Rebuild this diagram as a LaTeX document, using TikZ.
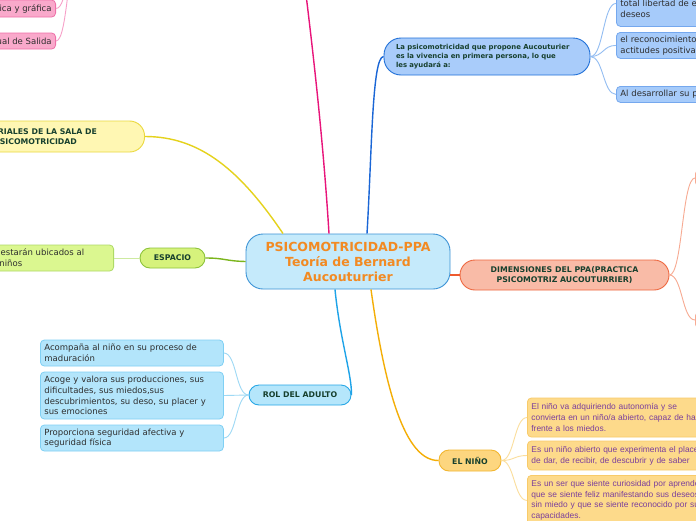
\documentclass[tikz,border=0pt]{standalone}
\usepackage{fontspec}
\setmainfont{DejaVu Sans}
\newfontfamily\arialf{Liberation Sans}
\usetikzlibrary{calc}
\definecolor{cfill}{HTML}{C5EAFB}
\definecolor{cdraw}{HTML}{3C93D6}
\definecolor{ctext}{HTML}{F28A22}
\definecolor{ttext}{HTML}{17402E}
\definecolor{kidtext}{HTML}{2E2E2E}
\definecolor{bfill}{HTML}{A9CCFA}
\definecolor{bdraw}{HTML}{2070D8}
\definecolor{bcfill}{HTML}{A6CBFA}
\definecolor{bcdraw}{HTML}{75A8EE}
\definecolor{blink}{HTML}{1A66D6}
\definecolor{bclink}{HTML}{93BDF2}
\definecolor{plink}{HTML}{E8147A}
\definecolor{pfill}{HTML}{F9A9CB}
\definecolor{pdraw}{HTML}{EE70A8}
\definecolor{pclink}{HTML}{F7A0C8}
\definecolor{yfill}{HTML}{FFF7B3}
\definecolor{ydraw}{HTML}{EBD93F}
\definecolor{ylink}{HTML}{E5D21C}
\definecolor{gfill}{HTML}{D6F27C}
\definecolor{gdraw}{HTML}{8DC33A}
\definecolor{glink}{HTML}{7BB51C}
\definecolor{gcfill}{HTML}{DBF790}
\definecolor{gcdraw}{HTML}{AEDA66}
\definecolor{gclink}{HTML}{CDEAA0}
\definecolor{rfill}{HTML}{B5E6FB}
\definecolor{rdraw}{HTML}{27A7E6}
\definecolor{rlink}{HTML}{1EA3E8}
\definecolor{rcfill}{HTML}{B3E5FB}
\definecolor{rcdraw}{HTML}{80D0F4}
\definecolor{rclink}{HTML}{9ED9F5}
\definecolor{dfill}{HTML}{F9BBA7}
\definecolor{ddraw}{HTML}{EE6840}
\definecolor{dlink}{HTML}{EE5A2E}
\definecolor{dclink}{HTML}{F7AA92}
\definecolor{nfill}{HTML}{FDD67F}
\definecolor{ndraw}{HTML}{F2B630}
\definecolor{nlink}{HTML}{F4AE06}
\definecolor{ncfill}{HTML}{FDDA8B}
\definecolor{ncdraw}{HTML}{F8CB6A}
\definecolor{nclink}{HTML}{FBDE9C}
\definecolor{nctext}{HTML}{7A3E9C}
\tikzset{
  topic/.style={draw, line width=0.9pt, inner sep=0pt, align=center, text=ttext,
    font=\bfseries\fontsize{7.8}{10}\selectfont},
  kid/.style={draw, line width=0.8pt, rounded corners=4pt, inner xsep=4pt, inner ysep=0pt,
    align=left, text=kidtext, font=\fontsize{8.5}{10.7}\selectfont},
  mainlink/.style={line width=1.4pt},
  kidlink/.style={line width=0.9pt}
}
\begin{document}
\begin{tikzpicture}[x=1pt,y=-1pt]
\useasboundingbox (0,0) rectangle (696,520);
\clip (0,0) rectangle (696,520);
\fill[white] (0,0) rectangle (696,520);

% central
\node[topic, fill=cfill, draw=cdraw, rounded corners=17pt, minimum width=204pt, minimum height=55pt,
  text=ctext, font=\bfseries\fontsize{12.5}{15}\selectfont] (central) at (348,261.5)
  {PSICOMOTRICIDAD-PPA\\Teoría de Bernard\\Aucouturrier};

% top blue
\node[topic, fill=bfill, draw=bdraw, rounded corners=17pt, minimum width=206pt, minimum height=37pt,
  text width=182pt, align=left, font=\bfseries\fontsize{6.9}{9}\selectfont] (vivencia) at (487,56.5)
  {La psicomotricidad que propone Aucouturier\\es la vivencia en primera persona, lo que\\les ayudará a:};
\node[kid, fill=bcfill, draw=bcdraw, anchor=north west, text width=180pt, minimum height=46pt] (b1) at (616,-20)
  {Conocer sus límites en la\\total libertad de expresar sus\\deseos};
\node[kid, fill=bcfill, draw=bcdraw, anchor=north west, text width=180pt, minimum height=26pt] (b2) at (616,32)
  {el reconocimiento de sus\\actitudes positivas};
\node[kid, fill=bcfill, draw=bcdraw, anchor=north west, text width=180pt, minimum height=16pt] (b3) at (616,86)
  {Al desarrollar su personalidad};

% pink (parent off canvas)
\node[topic, fill=pfill, draw=pdraw, rounded corners=12pt, minimum width=220pt, minimum height=28pt] (expres) at (190,-50) {};
\node[kid, fill=pfill, draw=pdraw, anchor=east, minimum height=17pt] (p1) at (56,8.5)
  {Expresión plástica y gráfica};
\node[kid, fill=pfill, draw=pdraw, anchor=east, minimum height=16pt] (p2) at (56,41)
  {Ritual de Salida};

% materiales
\node[topic, fill=yfill, draw=ydraw, rounded corners=15pt, minimum width=218pt, minimum height=31pt,
  anchor=east] (mat) at (145,136.5) {MATERIALES DE LA SALA DE\\PSICOMOTRICIDAD};

% espacio
\node[topic, fill=gfill, draw=gdraw, rounded corners=10pt, minimum width=65pt, minimum height=20pt] (esp) at (172.5,258) {ESPACIO};
\node[kid, fill=gcfill, draw=gcdraw, anchor=east, text width=174pt, minimum height=26pt] (e1) at (114,258)
  {Los materiales estarán ubicados al\\alcance de los niños};

% rol del adulto
\node[topic, fill=rfill, draw=rdraw, rounded corners=10pt, minimum width=102pt, minimum height=20pt] (rol) at (300,395) {ROL DEL ADULTO};
\node[kid, fill=rcfill, draw=rcdraw, anchor=west, text width=175pt, minimum height=26pt] (r1) at (40,353)
  {Acompaña al niño en su proceso de\\maduración};
\node[kid, fill=rcfill, draw=rcdraw, anchor=west, text width=175pt, minimum height=47pt] (r2) at (40,395.5)
  {Acoge y valora sus producciones, sus\\dificultades, sus miedos,sus\\descubrimientos, su deso, su placer y\\sus emociones};
\node[kid, fill=rcfill, draw=rcdraw, anchor=west, text width=175pt, minimum height=26pt] (r3) at (40,438)
  {Proporciona seguridad afectiva y\\seguridad física};

% dimensiones
\node[topic, fill=dfill, draw=ddraw, rounded corners=15pt, minimum width=209pt, minimum height=30pt] (dim) at (564.5,275)
  {DIMENSIONES DEL PPA(PRACTICA\\PSICOMOTRIZ AUCOUTURRIER)};
\node[kid, fill=dfill, draw=dclink, anchor=west, text width=150pt, minimum height=16pt] (d1) at (695,178) {};
\node[kid, fill=dfill, draw=dclink, anchor=west, text width=150pt, minimum height=16pt] (d2) at (695,320) {};

% el nino
\node[topic, fill=nfill, draw=ndraw, rounded corners=10pt, minimum width=62pt, minimum height=21pt] (nino) at (470,460.5) {EL NIÑO};
\node[kid, fill=ncfill, draw=ncdraw, anchor=west, text=nctext, text width=200pt, minimum height=39pt,
  font=\arialf\fontsize{8.4}{10.8}\selectfont] (n1) at (527,417.5)
  {El niño va adquiriendo autonomía y se\\convierta en un niño/a abierto, capaz de hacer\\frente a los miedos.};
\node[kid, fill=ncfill, draw=ncdraw, anchor=west, text=nctext, text width=200pt, minimum height=29pt,
  font=\arialf\fontsize{8.4}{10.8}\selectfont] (n2) at (527,455.5)
  {Es un niño abierto que experimenta el placer\\de dar, de recibir, de descubrir y de saber};
\node[kid, fill=ncfill, draw=ncdraw, anchor=north west, text=nctext, text width=200pt, minimum height=50pt,
  font=\arialf\fontsize{8.4}{10.8}\selectfont] (n3) at (527,475)
  {Es un ser que siente curiosidad por aprender\\que se siente feliz manifestando sus deseos\\sin miedo y que se siente reconocido por sus\\capacidades.};

% main connectors
\draw[mainlink, blink] ([xshift=19pt]central.north) .. controls (372,150) and (372,57) .. (vivencia.west);
\draw[mainlink, plink] ([xshift=-19pt]central.north) .. controls (322,120) and (308,10) .. (expres.east);
\draw[mainlink, ylink] ([xshift=-65pt]central.north) .. controls (240,170) and (200,136.5) .. (mat.east);
\draw[mainlink, glink] (central.west) .. controls (225,261) and (225,258) .. (esp.east);
\draw[mainlink, rlink] ([xshift=-13pt]central.south) .. controls (340,340) and (352,375) .. (rol.east);
\draw[mainlink, dlink] (central.east |- dim.west) -- (dim.west);
\draw[mainlink, nlink] ([xshift=23pt]central.south) .. controls (385,390) and (405,461) .. (nino.west);

% child connectors
\foreach \k in {b1,b2,b3}
  \draw[kidlink, bclink] (vivencia.east) .. controls +(13,0) and +(-13,0) .. (\k.west);
\foreach \k in {p1,p2}
  \draw[kidlink, pclink] (\k.east) .. controls +(12,0) and +(-12,0) .. (expres.west);
\draw[kidlink, gclink] (esp.west) -- (e1.east);
\foreach \k in {r1,r2,r3}
  \draw[kidlink, rclink] (rol.west) .. controls +(-13,0) and +(13,0) .. (\k.east);
\foreach \k in {d1,d2}
  \draw[kidlink, dclink] (dim.east) .. controls +(13,0) and +(-13,0) .. (\k.west);
\foreach \k in {n1,n2,n3}
  \draw[kidlink, nclink] (nino.east) .. controls +(13,0) and +(-13,0) .. (\k.west);
\end{tikzpicture}
\end{document}
